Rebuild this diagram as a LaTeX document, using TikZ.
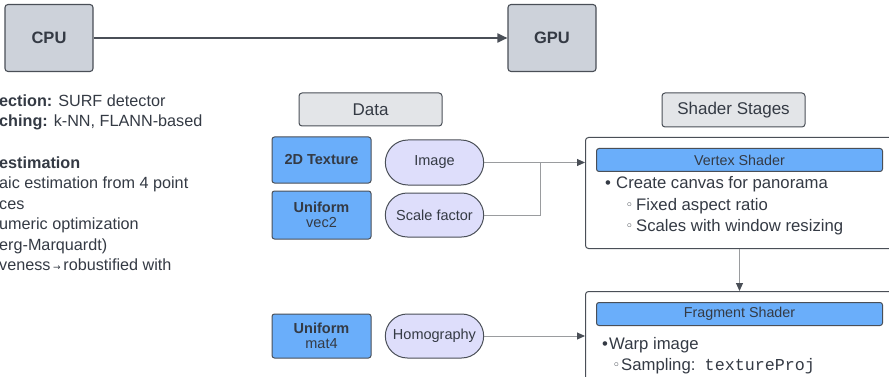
\documentclass[tikz,border=0pt]{standalone}
\usepackage{fontspec}
\setmainfont{Liberation Sans}
\setmonofont{Liberation Mono}
\newfontfamily\symfont{DejaVu Sans}
\usetikzlibrary{arrows.meta,shapes.misc}

\definecolor{ink}{HTML}{343A44}
\definecolor{edge}{HTML}{4A4F57}
\definecolor{hostfill}{HTML}{CDD2DA}
\definecolor{headfill}{HTML}{E3E5E8}
\definecolor{typefill}{HTML}{6AAEFA}
\definecolor{pillfill}{HTML}{DEDEFB}
\definecolor{wire}{HTML}{9A9C9F}

\newcommand{\fsz}[1]{\fontsize{#1}{#1}\selectfont}
\newcommand{\hollow}{{\symfont\fsz{13}\raisebox{0.5pt}{◦}}}

\tikzset{
  hostbox/.style={draw=edge, fill=hostfill, rounded corners=3pt, line width=1.1pt,
    minimum width=88, minimum height=67, text=ink, font=\fsz{16.5}\bfseries},
  headbox/.style={draw=edge, fill=headfill, rounded corners=3pt, line width=1pt,
    minimum width=143, minimum height=33, text=ink, font=\fsz{17}},
  typebox/.style={draw=edge, fill=typefill, rounded corners=2.5pt, line width=1pt,
    minimum width=99, minimum height=46, text=ink, font=\fsz{14.5}, align=center},
  pill/.style={rounded rectangle, draw=edge, fill=pillfill, line width=1pt,
    minimum width=105, minimum height=45, text=ink, font=\fsz{14.5}},
  stagebox/.style={draw=edge, fill=white, rounded corners=3pt, line width=1pt,
    anchor=north west},
  headbar/.style={draw=edge, fill=typefill, rounded corners=2.5pt, line width=1pt,
    anchor=north west, minimum width=286, minimum height=23, text=ink, font=\fsz{14.3}},
  listtext/.style={anchor=base west, inner sep=0pt, text=ink, font=\fsz{16.2}},
  itemtext/.style={anchor=base west, inner sep=0pt, text=ink, font=\fsz{16.7}},
  wireline/.style={draw=wire, line width=1pt},
  wiretip/.style={-{Triangle[length=8pt,width=7pt,color=edge]}},
}

\begin{document}
\begin{tikzpicture}[x=1pt, y=-1pt]
\useasboundingbox (0,0) rectangle (889,377);
\clip (0,0) rectangle (889,377);

% host and device
\node[hostbox] (cpu) at (49,38) {CPU};
\node[hostbox] (gpu) at (552,38) {GPU};
\draw[draw=edge, line width=1.8pt, -{Triangle[length=10pt,width=9pt]}] (cpu) -- (gpu);

% notes on the CPU side
\node[listtext] (n1) at (-1,106.5) {\textbf{ection:} SURF detector};
\node[listtext] (n2) at (-1,127) {\textbf{ching:} k-NN, FLANN-based};
\node[listtext] (n3) at (-1,168.5) {\textbf{estimation}};
\node[listtext] (n4) at (-1,188.5) {aic estimation from 4 point};
\node[listtext] (n5) at (-1,209) {ces};
\node[listtext] (n6) at (-1,229.5) {umeric optimization};
\node[listtext] (n7) at (-1,250) {erg-Marquardt)};
\node[listtext] (n8) at (-1,270.5) {veness\,{\symfont\fsz{9}→}\,robustified with};

% column headers
\node[headbox] (data) at (370.5,109.5) {Data};
\node[headbox, minimum height=34] (stages) at (733.5,110) {Shader Stages};

% data types and values
\node[typebox] (tex) at (321.5,160) {\textbf{2D Texture}};
\node[typebox, minimum height=48] (vec) at (321.5,215) {\textbf{Uniform}\\[1pt]vec2};
\node[typebox, minimum height=44] (mat) at (321.5,336) {\textbf{Uniform}\\[1pt]mat4};

\node[pill] (img) at (434.5,162.5) {Image};
\node[pill, minimum height=44] (scale) at (434.5,215) {Scale factor};
\node[pill, minimum height=44] (hom) at (434.5,336) {Homography};

% vertex shader stage
\node[stagebox, minimum width=308, minimum height=111] (vs) at (585,137) {};
\node[headbar] (vsh) at (596,148) {Vertex Shader};
\node[itemtext] (v1) at (605,189) {•};
\node[itemtext] (v1t) at (616,189) {Create canvas for panorama};
\node[itemtext] (v2) at (625.5,210) {\hollow};
\node[itemtext] (v2t) at (636,210) {Fixed aspect ratio};
\node[itemtext] (v3) at (625.5,231) {\hollow};
\node[itemtext] (v3t) at (636,231) {Scales with window resizing};

% fragment shader stage
\node[stagebox, minimum width=308, minimum height=120] (fs) at (585,291) {};
\node[headbar] (fsh) at (596,302) {Fragment Shader};
\node[itemtext] (f1) at (602,349) {•};
\node[itemtext] (f1t) at (609,349) {Warp image};
\node[itemtext] (f2) at (612.5,370) {\hollow};
\node[itemtext] (f2t) at (621,370) {Sampling:\ \ \texttt{textureProj}};

% connectors
\coordinate (join) at (540,162.5);
\draw[wireline] (scale.east) -| (join);
\draw[wireline, wiretip] (img.east) -- (img.east -| vs.west);
\draw[wireline, wiretip] (vs.south) -- (vs.south |- fs.north);
\draw[wireline, wiretip] (hom.east) -- (hom.east -| fs.west);
\end{tikzpicture}
\end{document}
